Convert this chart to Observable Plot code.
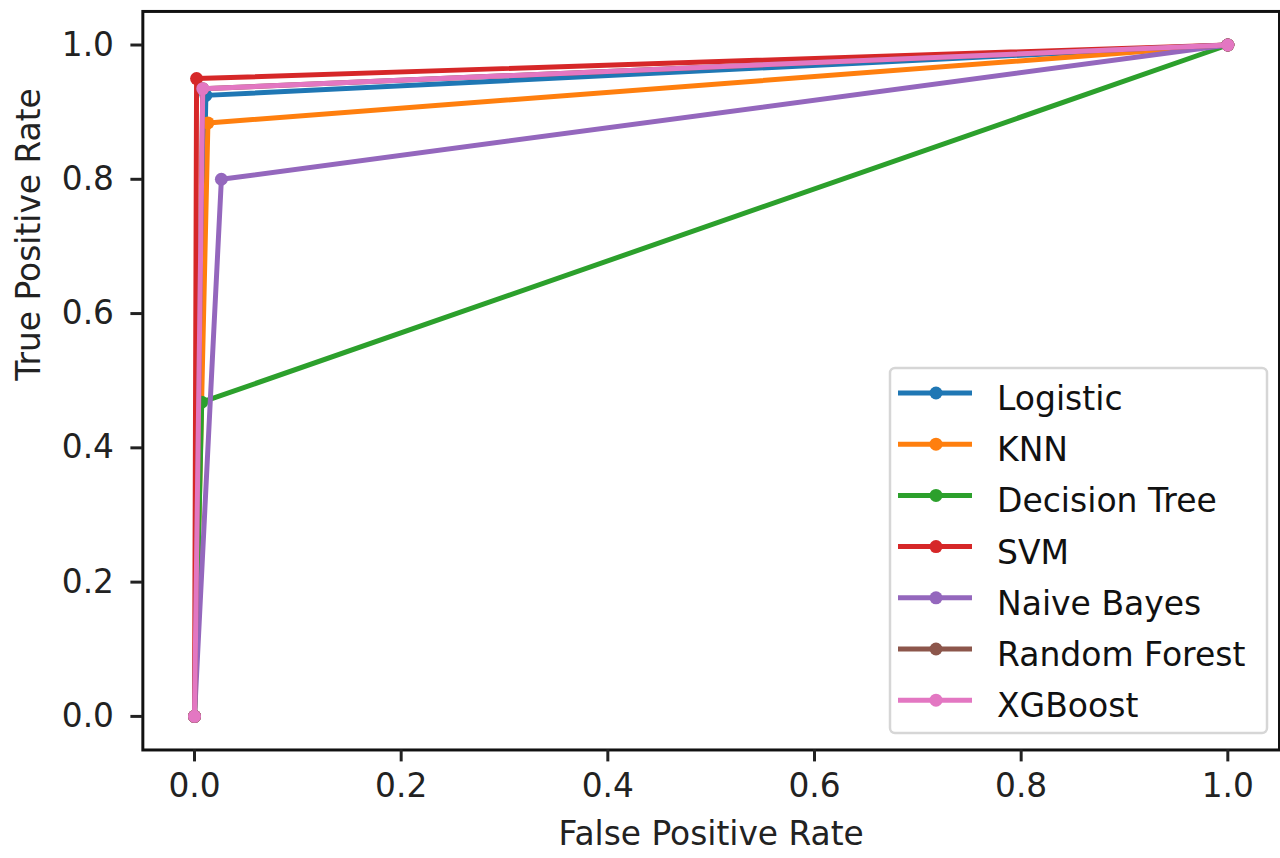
<!DOCTYPE html>
<html>
<head>
<meta charset="utf-8">
<script src="https://cdn.jsdelivr.net/npm/d3@7"></script>
<script src="https://cdn.jsdelivr.net/npm/@observablehq/plot@0.6"></script>
<style>
  html, body { margin: 0; padding: 0; background: #fff; overflow: hidden; }
  #wrap { position: relative; width: 1280px; height: 858px; overflow: hidden; }
  #wrap svg { font-family: "DejaVu Sans", sans-serif; }
</style>
</head>
<body>
<div id="wrap"></div>
<script>
// ---- data ----
const models = ["Logistic", "KNN", "Decision Tree", "SVM", "Naive Bayes", "Random Forest", "XGBoost"];
const midFPR = [0.011, 0.013, 0.007, 0.002, 0.026, 0.008, 0.008];
const midTPR = [0.925, 0.884, 0.468, 0.950, 0.800, 0.935, 0.935];
const colors = ["#1f77b4", "#ff7f0e", "#2ca02c", "#d62728", "#9467bd", "#8c564b", "#e377c2"];
const xTicks = [0, 0.2, 0.4, 0.6, 0.8, 1.0];
const yTicks = [0, 0.2, 0.4, 0.6, 0.8, 1.0];
const xLabel = "False Positive Rate";
const yLabel = "True Positive Rate";

// build ROC points per model: (0,0) -> (fpr,tpr) -> (1,1)
const rows = models.flatMap((m, i) => [
  {model: m, fpr: 0, tpr: 0},
  {model: m, fpr: midFPR[i], tpr: midTPR[i]},
  {model: m, fpr: 1, tpr: 1}
]);

const xDomain = [-0.05, 1.05];
const yDomain = [-0.05, 1.05];
const font = 33;

const perModel = models.flatMap(m => {
  const d = rows.filter(r => r.model === m);
  return [
    Plot.line(d, {x: "fpr", y: "tpr", stroke: "model", strokeWidth: 5}),
    Plot.dot(d, {x: "fpr", y: "tpr", fill: "model", r: 6.5, stroke: "none"})
  ];
});

const chart = Plot.plot({
  width: 1286,
  height: 858,
  marginLeft: 143,
  marginRight: 1,
  marginTop: 11,
  marginBottom: 105,
  style: {fontFamily: "DejaVu Sans, sans-serif", fontSize: font + "px", color: "#222", background: "#fff"},
  x: {domain: xDomain},
  y: {domain: yDomain},
  color: {domain: models, range: colors},
  marks: [
    ...perModel,
    Plot.frame({stroke: "#111", strokeWidth: 3}),
    Plot.axisX({ticks: xTicks, tickFormat: d3.format(".1f"), tickSize: 12, tickPadding: 12, strokeWidth: 3, label: null, fontSize: font, fill: "#222"}),
    Plot.axisY({ticks: yTicks, tickFormat: d3.format(".1f"), tickSize: 12, tickPadding: 17, strokeWidth: 3, label: null, fontSize: font, fill: "#222"}),
    Plot.text([xLabel], {frameAnchor: "bottom", dy: 85, fontSize: font, fill: "#222", lineAnchor: "middle"}),
    Plot.text([yLabel], {frameAnchor: "left", dx: -114, rotate: -90, fontSize: font, fill: "#222", lineAnchor: "middle"})
  ]
});
document.getElementById("wrap").appendChild(chart);

// ---- legend (inside axes, lower right) ----
const lg = d3.select("#wrap").append("svg")
  .attr("width", 1280).attr("height", 858)
  .style("position", "absolute").style("left", "0px").style("top", "0px")
  .style("pointer-events", "none");
const box = {x: 890, y: 368, w: 377, h: 365};
lg.append("rect").attr("x", box.x).attr("y", box.y).attr("width", box.w).attr("height", box.h)
  .attr("rx", 5).attr("fill", "rgba(255,255,255,0.8)").attr("stroke", "#d6d6d6").attr("stroke-width", 2.5);
models.forEach((m, i) => {
  const cy = 393 + i * 51.2;
  lg.append("line").attr("x1", 898).attr("x2", 972).attr("y1", cy).attr("y2", cy)
    .attr("stroke", colors[i]).attr("stroke-width", 5);
  lg.append("circle").attr("cx", 936).attr("cy", cy).attr("r", 6.5).attr("fill", colors[i]);
  lg.append("text").attr("x", 997).attr("y", cy + 17).text(m)
    .attr("font-family", "DejaVu Sans, sans-serif").attr("font-size", font).attr("fill", "#111");
});
</script>
</body>
</html>
